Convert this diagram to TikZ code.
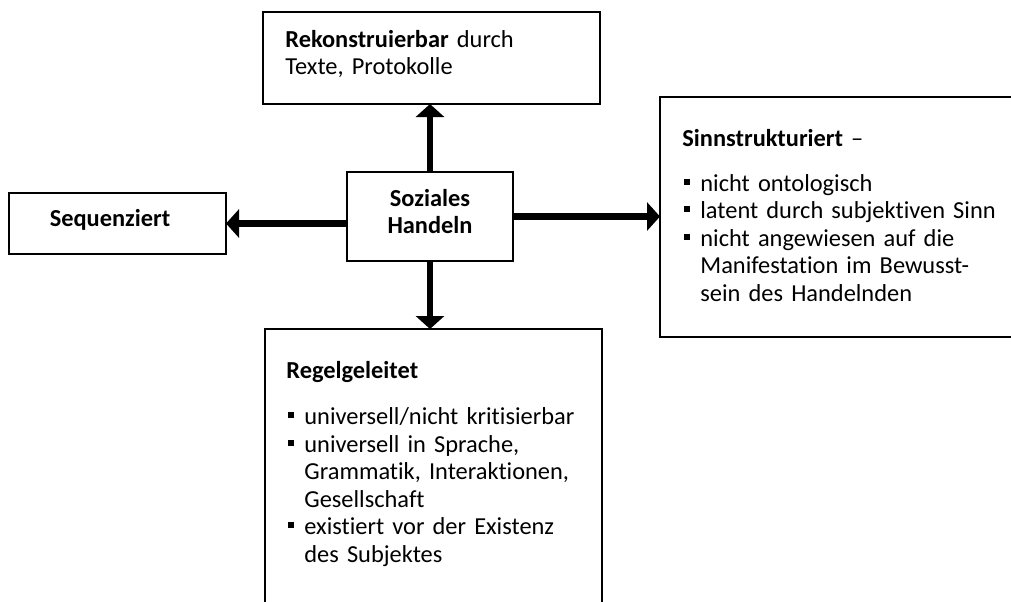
\documentclass[tikz,border=0pt]{standalone}
\usepackage{fontspec}
\setmainfont{Carlito}[Ligatures=NoCommon]
\usepackage{tikz}
\usetikzlibrary{arrows.meta,positioning,calc}
\tikzstyle{kasten}=[draw, rectangle, line width=0.8pt,
                    inner sep=0pt, outer sep=0pt]
\tikzstyle{pfeil} =[line width=3.2pt,
                    -{Triangle[width=14pt,length=6.5pt]}]
\tikzstyle{inhalt}=[inner sep=0pt, anchor=base west,
                    text width=175pt]
\tikzstyle{mitte} =[inner sep=0pt, anchor=base,
                    text width=80pt, align=center]
\newcommand{\punkt}[1]{\par\hangindent=9pt\hangafter=1\noindent
  \hbox to 9pt{\hspace{0.75pt}\rule[3.2pt]{3pt}{3pt}\hfil}#1}

\begin{document}
\begin{tikzpicture}[x=0.5pt, y=-0.5pt,
            font=\fontsize{12.2}{13.75}\selectfont]
            \useasboundingbox (0,0) rectangle (1011,601);
            % Kaesten
            \node (soz) [kasten, minimum width=83pt, minimum height=44.5pt]
                at (430,216.5) {};
            \node (rek) [kasten, minimum width=168.5pt, minimum height=46pt]
                at (431.5,58) {};
            \node (seq) [kasten, minimum width=108.5pt, minimum height=30.5pt]
                at (117.5,223.5) {};
            \node (sinn) [kasten, minimum width=190pt, minimum height=120pt]
                at (850,217) {};
            \node (regel) [kasten, minimum width=168.5pt, minimum height=155.5pt]
                at (433.5,484.5) {};
            % Texte
            \node (soztxt) [mitte] at (430,206)
                {\textbf{Soziales}\\\textbf{Handeln}};
            \node (seqtxt) [mitte] at (110,226) {\textbf{Sequenziert}};
            \node (rektxt) [inhalt] at (285,47)
                {\raggedright\textbf{Rekonstruierbar} durch\\Texte, Protokolle};
            \node (sinntxt) [inhalt] at (682,146)
                {\raggedright\textbf{Sinnstrukturiert} --\par\vspace{8.75pt}
                 \punkt{nicht ontologisch}
                 \punkt{latent durch subjektiven Sinn}
                 \punkt{nicht angewiesen auf die\newline Manifestation im Bewusst-\newline sein des Handelnden}\par};
            \node (regeltxt) [inhalt] at (286,378)
                {\raggedright\textbf{Regelgeleitet}\par\vspace{9.5pt}
                 \punkt{universell/nicht kritisierbar}
                 \punkt{universell in Sprache,\newline Grammatik, Interaktionen,\newline Gesellschaft}
                 \punkt{existiert vor der Existenz\newline des Subjektes}\par};
            % Pfeile
            \draw[pfeil] (soz.north) -- (soz.north |- rek.south);
            \draw[pfeil] (soz.south) -- (soz.south |- regel.north);
            \draw[pfeil] (soz.west |- seq.east) -- (seq.east);
            \draw[pfeil] (soz.east) -- (soz.east -| sinn.west);
\end{tikzpicture}
\end{document}
